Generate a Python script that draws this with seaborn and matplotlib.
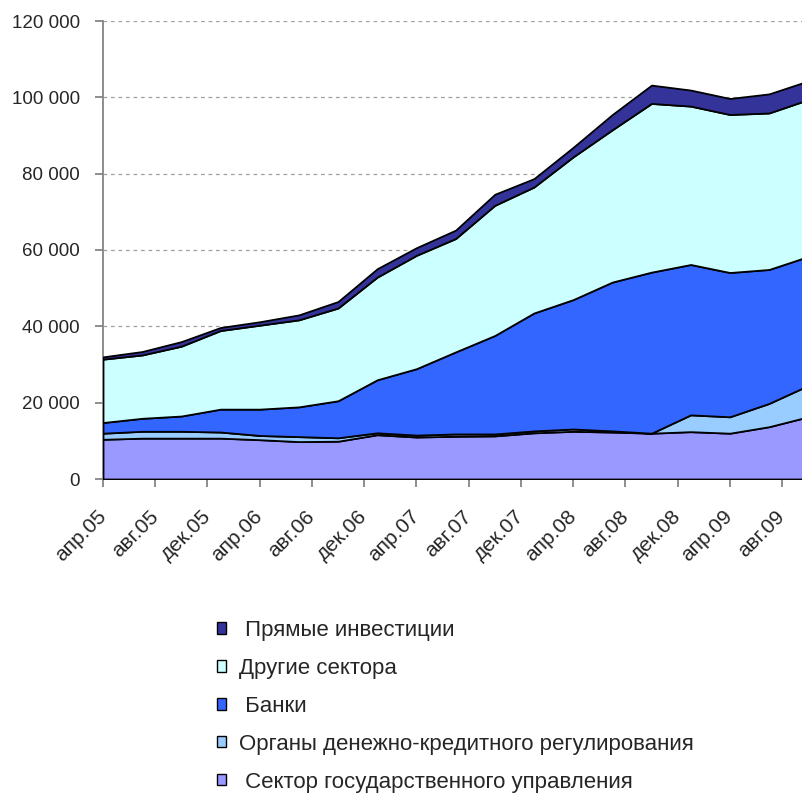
import numpy as np
import pandas as pd
import seaborn as sns
import matplotlib.pyplot as plt
from matplotlib.patches import Patch
from matplotlib.ticker import FixedLocator, FuncFormatter
from matplotlib.transforms import ScaledTranslation

# quarterly observations
dates = ['2005-04', '2005-07', '2005-10', '2006-01', '2006-04', '2006-07',
         '2006-10', '2007-01', '2007-04', '2007-07', '2007-10', '2008-01',
         '2008-04', '2008-07', '2008-10', '2009-01', '2009-04', '2009-07',
         '2009-10']

gov = [10400, 10700, 10700, 10700, 10300, 9800, 9900, 11600, 11000, 11200,
       11300, 12100, 12500, 12300, 12000, 12400, 12000, 13700, 16300]
monetary = [1600, 1800, 1800, 1600, 1100, 1300, 900, 500, 500, 600,
            500, 500, 600, 300, 0, 4400, 4300, 6100, 8200]
banks = [2800, 3400, 4000, 6000, 6900, 7800, 9700, 13900, 17400, 21500,
         25800, 30900, 33900, 39000, 42200, 39400, 37800, 35100, 33800]
other = [16600, 16600, 18300, 20600, 22000, 22800, 24300, 26900, 29700, 29700,
         34100, 33000, 37400, 39900, 44200, 41500, 41400, 41000, 41100]
direct = [600, 900, 1200, 800, 900, 1300, 1700, 2200, 2000, 2200,
          2900, 2200, 2500, 4000, 4800, 4200, 4200, 5000, 4900]

tick_labels = ['апр.05', 'авг.05', 'дек.05', 'апр.06', 'авг.06', 'дек.06',
               'апр.07', 'авг.07', 'дек.07', 'апр.08', 'авг.08', 'дек.08',
               'апр.09', 'авг.09']

names = ['Сектор государственного управления',
         'Органы денежно-кредитного регулирования',
         'Банки', 'Другие сектора', 'Прямые инвестиции']
colors = ['#9999FF', '#99CCFF', '#3366FF', '#CCFFFF', '#333399']

sns.set_theme(style='white')
plt.rcParams['font.family'] = ['Liberation Sans', 'DejaVu Sans']

df = pd.DataFrame({'date': pd.to_datetime(dates), names[0]: gov,
                   names[1]: monetary, names[2]: banks, names[3]: other,
                   names[4]: direct})
start = df['date'].iloc[0]
df['m'] = (df['date'].dt.year - start.year) * 12 + (df['date'].dt.month - start.month)

fig = plt.figure(figsize=(8.03, 7.97), dpi=100)
ax = fig.add_axes([103 / 803, 1 - 479 / 797, 700 / 803, 458 / 797])

ax.stackplot(df['m'], *[df[n] for n in names], colors=colors,
             edgecolor='black', linewidth=1.3, zorder=3)

ax.set_xlim(0, 53.6)
ax.set_ylim(0, 120000)
ax.set_yticks(np.arange(0, 120001, 20000))
ax.yaxis.set_major_formatter(FuncFormatter(lambda v, p: f'{int(v):,}'.replace(',', ' ')))
for y in range(20000, 120001, 20000):
    ax.axhline(y, color='#a0a0a0', linestyle=(0, (3, 3)), linewidth=0.9, zorder=1)

ax.xaxis.set_major_locator(FixedLocator(np.arange(len(tick_labels)) * 4))
ax.set_xticklabels(tick_labels, rotation=45, ha='right', va='center',
                   rotation_mode='anchor')
shift = ScaledTranslation(-11 / 100, 0, fig.dpi_scale_trans)
for lbl in ax.get_xticklabels():
    lbl.set_transform(lbl.get_transform() + shift)

sns.despine(ax=ax, top=True, right=True)
ax.spines['left'].set_color('#808080')
ax.spines['bottom'].set_color('#808080')
ax.tick_params(axis='y', length=6, color='#808080', direction='out', pad=10.5,
               labelsize=13.5, left=True)
ax.tick_params(axis='x', length=6, color='#808080', direction='out', pad=19,
               labelsize=15, bottom=True)
ax.set_xlabel('')
ax.set_ylabel('')

handles = [Patch(facecolor=c, edgecolor='black', linewidth=1.0)
           for c in colors[::-1]]
leg_labels = [' Прямые инвестиции', 'Другие сектора', ' Банки',
              'Органы денежно-кредитного регулирования',
              ' Сектор государственного управления']
fig.legend(handles=handles, labels=leg_labels, loc='upper left',
           bbox_to_anchor=(197 / 803, 1 - 600 / 797), frameon=False,
           fontsize=16, handlelength=0.42, handleheight=0.42,
           handletextpad=0.55, labelspacing=0.76)

fig.savefig('out.png', dpi=100)
